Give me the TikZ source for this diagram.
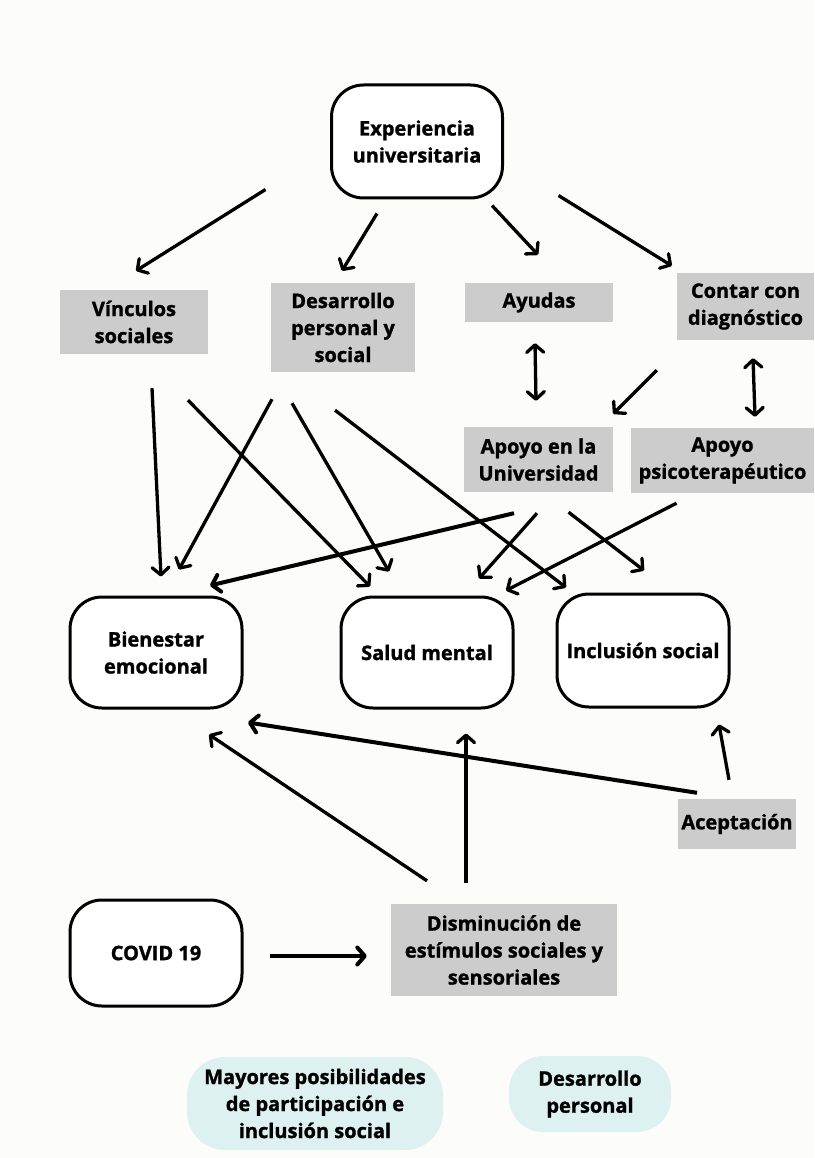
\documentclass[tikz,border=0pt]{standalone}
\usepackage{fontspec}
\setmainfont{Open Sans}[BoldFeatures={FakeBold=1.3}]
\usetikzlibrary{arrows.meta}

\definecolor{paper}{RGB}{252,252,250}
\definecolor{boxgray}{RGB}{204,204,204}
\definecolor{boxcyan}{RGB}{222,241,241}

\begin{document}
\begin{tikzpicture}[x=1pt, y=-1pt,
    % Define the styles for the boxes
    txt/.style={align=center, inner sep=0pt, font=\fontsize{20}{27}\selectfont\bfseries},
    whitebox/.style={txt, draw, line width=3pt, fill=white, rounded corners=32pt},
    graybox/.style={txt, fill=boxgray},
    cyanbox/.style={txt, fill=boxcyan, rounded corners=38pt},
    % Define the style for the arrows
    arr/.style={line width=3.3pt, -{Straight Barb[length=7.5pt, width=17pt, round]}},
    thickarr/.style={arr, line width=4pt},
    twoarr/.style={line width=3.3pt, {Straight Barb[length=7.5pt, width=17pt, round]}-{Straight Barb[length=7.5pt, width=17pt, round]}}
]

% Background and page size
\fill[paper] (0,0) rectangle (814,1158);
\useasboundingbox (0,0) rectangle (814,1158);

% Top box
\node[whitebox, minimum width=171pt, minimum height=113pt] (exp) at (417,141.5) {Experiencia\\universitaria};

% Second row
\node[graybox, minimum width=148pt, minimum height=64pt] (vinc) at (134,322) {Vínculos\\sociales};
\node[graybox, minimum width=144pt, minimum height=89pt] (desa) at (343,327.5) {Desarrollo\\personal y\\social};
\node[graybox, minimum width=148pt, minimum height=39pt] (ayu) at (539,302.5) {Ayudas};
\node[graybox, minimum width=137pt, minimum height=67pt] (cont) at (745.5,306.5) {Contar con\\diagnóstico};

% Support boxes
\node[graybox, minimum width=149pt, minimum height=65pt] (auni) at (538.5,459.5) {Apoyo en la\\Universidad};
\node[graybox, minimum width=183pt, minimum height=65pt] (apsi) at (722.5,460.5) {Apoyo\\psicoterapéutico};

% Outcome boxes
\node[whitebox, minimum width=172pt, minimum height=111pt] (bien) at (156,652.5) {Bienestar\\emocional};
\node[whitebox, minimum width=172pt, minimum height=111pt] (salud) at (427,652.5) {Salud mental};
\node[whitebox, minimum width=172pt, minimum height=113pt] (incl) at (643,650.5) {Inclusión social};

% Lower boxes
\node[graybox, minimum width=118pt, minimum height=50pt] (acep) at (737,824) {Aceptación};
\node[whitebox, minimum width=172pt, minimum height=106pt] (covid) at (156,953) {COVID 19};
\node[graybox, minimum width=226pt, minimum height=92pt] (dism) at (504,950) {Disminución de\\estímulos sociales y\\sensoriales};

% Bottom boxes
\node[cyanbox, minimum width=256pt, minimum height=93pt] (mayo) at (315,1103.5) {Mayores posibilidades\\de participación e\\inclusión social};
\node[cyanbox, minimum width=162pt, minimum height=76pt, rounded corners=34pt] (dper) at (590,1094) {Desarrollo\\personal};

% Arrows from the top box
\draw[arr] ([shift={(-64.5,-10)}]exp.south west) -- ([shift={(2,-19)}]vinc.north);
\draw[arr] ([shift={(-40,14)}]exp.south) -- ([shift={(-1,-12)}]desa.north);
\draw[arr] ([shift={(75,6)}]exp.south) -- ([shift={(-1,-28)}]ayu.north);
\draw[arr] ([shift={(54.5,-4)}]exp.south east) -- ([shift={(-5,-7)}]cont.north west);

% Arrows between the support boxes
\draw[twoarr] ([shift={(-4,21)}]ayu.south) -- ([shift={(-2.5,-26)}]auni.north);
\draw[twoarr] ([shift={(7.5,18)}]cont.south) -- ([shift={(32.5,-11)}]apsi.north);
\draw[arr] ([shift={(-20,30)}]cont.south west) -- ([shift={(0,-13)}]auni.north east);

% Arrows to the outcome boxes
\draw[arr] ([shift={(18,34)}]vinc.south) -- ([shift={(5,-19)}]bien.north);
\draw[arr] ([shift={(54,46)}]vinc.south) -- ([shift={(-57,-9)}]salud.north);
\draw[arr] ([shift={(-71,27)}]desa.south) -- ([shift={(23,-26)}]bien.north);
\draw[arr] ([shift={(-51,31)}]desa.south) -- ([shift={(-38,-24)}]salud.north);
\draw[arr] ([shift={(-8,38)}]desa.south) -- ([shift={(-77,-5)}]incl.north);
\draw[thickarr] ([shift={(-24.5,21)}]auni.south) -- ([shift={(54,-10)}]bien.north);
\draw[arr] ([shift={(-1.5,21)}]auni.south) -- ([shift={(52,-17)}]salud.north);
\draw[arr] ([shift={(30,20)}]auni.south) -- ([shift={(1,-22)}]incl.north);
\draw[arr] ([shift={(-46,10)}]apsi.south) -- ([shift={(79,-5)}]salud.north);

% Arrows from the lower boxes
\draw[arr] ([shift={(-77,-23)}]dism.north) -- ([shift={(53,25)}]bien.south);
\draw[arr] ([shift={(-38,-21)}]dism.north) -- ([shift={(39,24)}]salud.south);
\draw[thickarr] ([shift={(-40,-6)}]acep.north) -- ([shift={(92,13)}]bien.south);
\draw[arr] ([shift={(-8,-19)}]acep.north) -- ([shift={(76,16)}]incl.south);
\draw[thickarr] ([shift={(26,3)}]covid.east) -- ([shift={(-24,6)}]dism.west);

\end{tikzpicture}
\end{document}
